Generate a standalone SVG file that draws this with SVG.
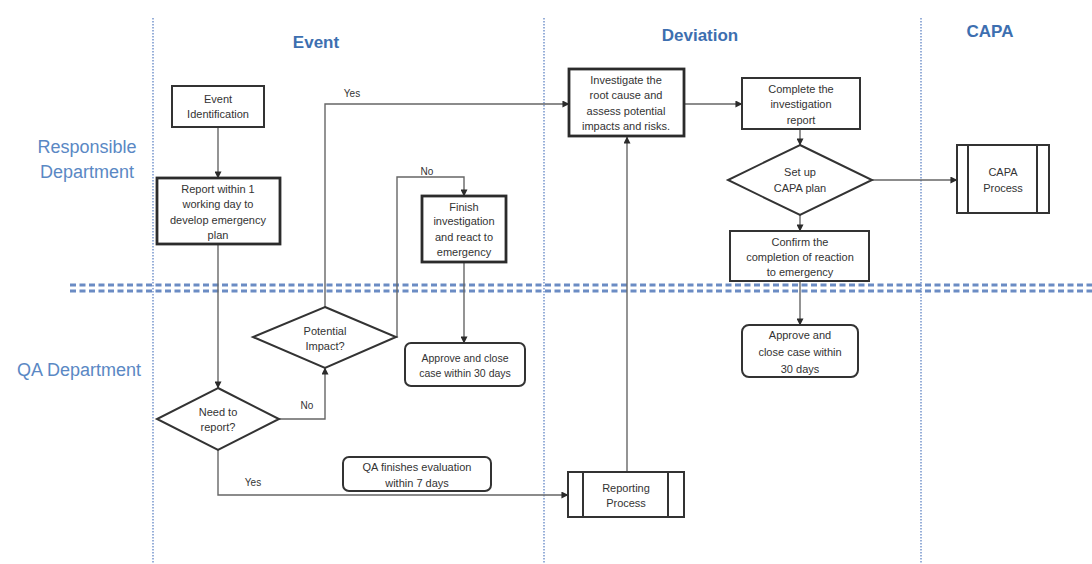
<svg xmlns="http://www.w3.org/2000/svg" width="1092" height="564" viewBox="0 0 1092 564">
<defs>
<marker id="arr" viewBox="0 0 8 8" refX="7.5" refY="4" markerWidth="7" markerHeight="7" markerUnits="userSpaceOnUse" orient="auto">
<path d="M0,0 L8,4 L0,8 z" fill="#2b2b2b"/>
</marker>
<style>
.lane{stroke:#7e9bcf;stroke-width:1.6;stroke-dasharray:1.5 1.5;fill:none}
.hsep{stroke:#6b8cc4;stroke-width:3;stroke-dasharray:6 3.5;fill:none}
.col{font-family:"Liberation Sans",Arial,sans-serif;font-weight:bold;font-size:17px;fill:#3d6fb0;text-anchor:middle}
.row{font-family:"Liberation Sans",Arial,sans-serif;font-size:18px;fill:#5a88c4;text-anchor:middle}
.box{fill:#fff;stroke:#333;stroke-width:2}
.thick{fill:#fff;stroke:#2b2b2b;stroke-width:2.8}
.t{font-family:"Liberation Sans",Arial,sans-serif;font-size:11px;fill:#333;text-anchor:middle}
.s{font-family:"Liberation Sans",Arial,sans-serif;font-size:10.5px;fill:#333;text-anchor:middle}
.lbl{font-family:"Liberation Sans",Arial,sans-serif;font-size:10px;fill:#333;text-anchor:middle}
.c{fill:none;stroke:#666;stroke-width:1.4;marker-end:url(#arr)}
</style>
</defs>
<rect width="1092" height="564" fill="#fff"/>
<g id="swimlanes">
<line class="lane" x1="153" y1="18" x2="153" y2="564"/>
<line class="lane" x1="544" y1="18" x2="544" y2="564"/>
<line class="lane" x1="921" y1="18" x2="921" y2="564"/>
<line class="hsep" x1="70" y1="285" x2="1092" y2="285"/>
<line class="hsep" x1="70" y1="291" x2="1092" y2="291"/>
<text class="col" x="316" y="48">Event</text>
<text class="col" x="700" y="41">Deviation</text>
<text class="col" x="990" y="37">CAPA</text>
<text class="row" x="87" y="153">Responsible</text>
<text class="row" x="87" y="178">Department</text>
<text class="row" x="79" y="376">QA Department</text>
</g>
<g id="connectors">
<path class="c" d="M218,127 V178"/>
<path class="c" d="M218,244 V388"/>
<path class="c" d="M279,419 H325 V368"/>
<path class="c" d="M218,450 V495 H568"/>
<path class="c" d="M325,307 V104 H569"/>
<path class="c" d="M396,337 H397 V177 H464 V196"/>
<path class="c" d="M464,262 V343"/>
<path class="c" d="M627,472 V137"/>
<path class="c" d="M684,104 H742"/>
<path class="c" d="M800,129 V145"/>
<path class="c" d="M872,180 H957"/>
<path class="c" d="M800,215 V231"/>
<path class="c" d="M800,281 V325"/>
<text class="lbl" x="352" y="97">Yes</text>
<text class="lbl" x="427" y="175">No</text>
<text class="lbl" x="307" y="409">No</text>
<text class="lbl" x="253" y="486">Yes</text>
</g>
<g id="event-identification">
<rect class="box" x="172" y="86" width="92" height="41"/>
<text class="t" x="218" y="103">Event</text>
<text class="t" x="218" y="118">Identification</text>
</g>
<g id="report-within">
<rect class="thick" x="157" y="178" width="123" height="66"/>
<text class="t" x="218" y="193">Report within 1</text>
<text class="t" x="218" y="208">working day to</text>
<text class="t" x="218" y="224">develop emergency</text>
<text class="t" x="218" y="239">plan</text>
</g>
<g id="need-to-report">
<polygon class="box" points="218,388 279,419 218,450 157,419"/>
<text class="t" x="218" y="416">Need to</text>
<text class="t" x="218" y="431">report?</text>
</g>
<g id="potential-impact">
<polygon class="box" points="325,307 396,337 325,368 253,337"/>
<text class="t" x="325" y="335">Potential</text>
<text class="t" x="325" y="350">Impact?</text>
</g>
<g id="finish-investigation">
<rect class="thick" x="422" y="196" width="84" height="66"/>
<text class="t" x="464" y="211">Finish</text>
<text class="t" x="464" y="225">investigation</text>
<text class="t" x="464" y="241">and react to</text>
<text class="t" x="464" y="256">emergency</text>
</g>
<g id="approve-close-event">
<rect class="box" x="405" y="343" width="120" height="43" rx="6"/>
<text class="s" x="465" y="362">Approve and close</text>
<text class="s" x="465" y="377">case within 30 days</text>
</g>
<g id="qa-evaluation">
<rect class="box" x="343" y="457" width="148" height="34" rx="6"/>
<text class="t" x="417" y="471">QA finishes evaluation</text>
<text class="t" x="417" y="487">within 7 days</text>
</g>
<g id="reporting-process">
<rect class="box" x="568" y="472" width="116" height="45"/>
<line x1="583" y1="472" x2="583" y2="517" stroke="#333" stroke-width="2"/>
<line x1="668" y1="472" x2="668" y2="517" stroke="#333" stroke-width="2"/>
<text class="t" x="626" y="492">Reporting</text>
<text class="t" x="626" y="507">Process</text>
</g>
<g id="investigate-root-cause">
<rect class="thick" x="569" y="69" width="115" height="67"/>
<text class="t" x="626" y="84">Investigate the</text>
<text class="t" x="626" y="99">root cause and</text>
<text class="t" x="626" y="115">assess potential</text>
<text class="t" x="626" y="130">impacts and risks.</text>
</g>
<g id="complete-report">
<rect class="box" x="742" y="78" width="118" height="51"/>
<text class="t" x="801" y="93">Complete the</text>
<text class="t" x="801" y="108">investigation</text>
<text class="t" x="801" y="124">report</text>
</g>
<g id="setup-capa">
<polygon class="box" points="800,145 872,180 800,215 728,180"/>
<text class="t" x="800" y="176">Set up</text>
<text class="t" x="800" y="192">CAPA plan</text>
</g>
<g id="capa-process">
<rect class="box" x="957" y="145" width="92" height="68"/>
<line x1="968" y1="145" x2="968" y2="213" stroke="#333" stroke-width="2"/>
<line x1="1037" y1="145" x2="1037" y2="213" stroke="#333" stroke-width="2"/>
<text class="t" x="1003" y="176">CAPA</text>
<text class="t" x="1003" y="192">Process</text>
</g>
<g id="confirm-completion">
<rect class="box" x="730" y="231" width="139" height="50"/>
<text class="t" x="800" y="246">Confirm the</text>
<text class="t" x="800" y="261">completion of reaction</text>
<text class="t" x="800" y="276">to emergency</text>
</g>
<g id="approve-close-deviation">
<rect class="box" x="742" y="325" width="116" height="52" rx="7"/>
<text class="t" x="800" y="339">Approve and</text>
<text class="t" x="800" y="356">close case within</text>
<text class="t" x="800" y="373">30 days</text>
</g>
</svg>
